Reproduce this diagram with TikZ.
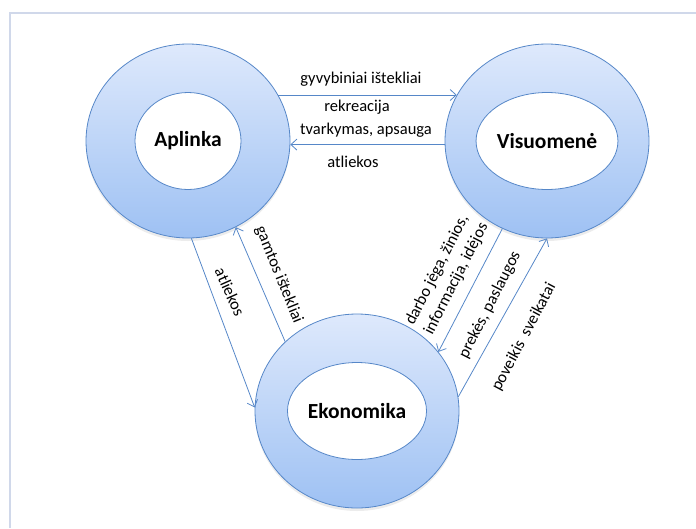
\documentclass[tikz,border=0pt]{standalone}
\usepackage{fontspec}
\setmainfont{Carlito}
\usetikzlibrary{shapes.geometric}
\usetikzlibrary{shadows}
\usetikzlibrary{arrows.meta}

\definecolor{ringtop}{RGB}{222,233,252}
\definecolor{ringbot}{RGB}{158,193,243}
\definecolor{ringline}{RGB}{86,135,200}
\definecolor{frameline}{RGB}{208,216,234}

\begin{document}
\begin{tikzpicture}
			[x=1pt, y=-1pt, >={Straight Barb[length=6pt, width=11pt]},
			 ring/.style = {draw=ringline, line width=0.8pt, ellipse, minimum width=204pt, minimum height=194pt, top color=ringtop, bottom color=ringbot, drop shadow={opacity=0.15, shadow xshift=0pt, shadow yshift=-3pt}},
			 hole/.style = {draw=ringline, line width=0.8pt, ellipse, fill=white, minimum width=106pt, minimum height=97pt, inner sep=0pt, font=\fontsize{21.5}{25}\selectfont\bfseries},
			 flow/.style = {->, draw=ringline, line width=0.8pt},
			 lbl/.style = {font=\fontsize{16.5}{21}\selectfont, inner sep=1pt}]
			\useasboundingbox (0,0) rectangle (696,528);
			\draw[frameline, line width=1.2pt] (10,528) -- (10,13) -- (696,13);
			\node[ring] (aplinkaRing) at (188,141) {};
			\node[hole] (aplinka) at (188,141) {Aplinka};
			\node[ring] (visuomeneRing) at (547,141) {};
			\node[hole] (visuomene) at (547,141) {Visuomenė};
			\node[ring] (ekonomikaRing) at (357,411) {};
			\node[hole] (ekonomika) at (357,411) {Ekonomika};
			\draw[flow] (aplinkaRing.27) -- (visuomeneRing.153);
			\draw[flow] (visuomeneRing.182) -- (aplinkaRing.-2);
			\draw[flow] (aplinkaRing.272) -- (ekonomikaRing.178);
			\draw[flow] (ekonomikaRing.136) -- (aplinkaRing.299);
			\draw[flow] (visuomeneRing.-117) -- (ekonomikaRing.36);
			\draw[flow] (ekonomikaRing.8) -- (visuomeneRing.270);
			\node[lbl] (gyvybiniai) at (361,79) {gyvybiniai ištekliai};
			\node[lbl] (rekreacija) at (357,107) {rekreacija};
			\node[lbl] (tvarkymas) at (366,130) {tvarkymas, apsauga};
			\node[lbl] (atliekosV) at (353,162) {atliekos};
			\node[lbl, rotate=-66] (atliekosA) at (230,292) {atliekos};
			\node[lbl, rotate=-68] (gamtos) at (279,275) {gamtos ištekliai};
			\node[lbl, rotate=63, align=left] (darbo) at (447,274) {darbo jėga, žinios,\\ informacija, idėjos};
			\node[lbl, rotate=63] (prekes) at (490,305) {prekės, paslaugos};
			\node[lbl, rotate=62] (poveikis) at (524,337) {poveikis\ \ sveikatai};
		\end{tikzpicture}
\end{document}
